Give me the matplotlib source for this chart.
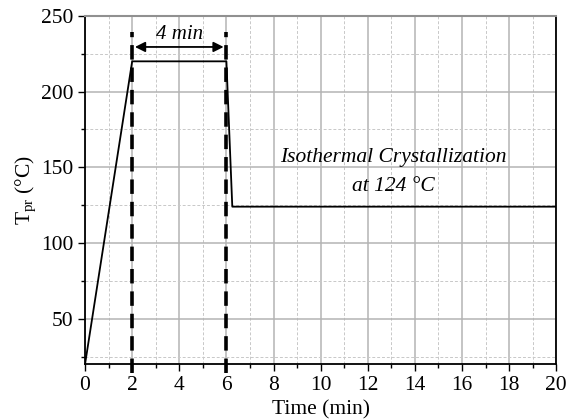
import matplotlib
matplotlib.use("Agg")
import matplotlib.pyplot as plt
from matplotlib.ticker import MultipleLocator

plt.rcParams['font.family'] = ['Liberation Serif', 'DejaVu Serif']
plt.rcParams['mathtext.fontset'] = 'custom'
plt.rcParams['mathtext.rm'] = 'Liberation Serif'
plt.rcParams['mathtext.it'] = 'Liberation Serif:italic'

# Temperature program: heat, hold, quench, isothermal
time_min = [0, 2, 6, 6.25, 20]
temp_c = [20, 220, 220, 124, 124]

hold_start = 2
hold_end = 6
hold_label = "4 min"
iso_label = "Isothermal Crystallization\nat 124 \u00b0C"

fig = plt.figure(figsize=(5.67, 4.19), dpi=100)
ax = fig.add_axes([0.150, 0.131, 0.831, 0.831])

ax.set_xlim(0, 20)
ax.set_ylim(20, 250)
ax.xaxis.set_major_locator(MultipleLocator(2))
ax.xaxis.set_minor_locator(MultipleLocator(1))
ax.yaxis.set_major_locator(MultipleLocator(50))
ax.yaxis.set_minor_locator(MultipleLocator(25))
ax.set_yticks([50, 100, 150, 200, 250])

ax.grid(which='major', color='#b4b4b4', linewidth=1.1, linestyle='-')
ax.grid(which='minor', color='#c8c8c8', linewidth=0.7, linestyle=(0, (3, 2)))
ax.set_axisbelow(True)

ax.tick_params(which='both', direction='out', labelsize=15.5, width=1.0)
ax.tick_params(which='major', length=5)
ax.tick_params(which='minor', length=3)
for side in ['left', 'bottom', 'right']:
    ax.spines[side].set_linewidth(1.3)
    ax.spines[side].set_color('black')
ax.spines['top'].set_color('#909090')
ax.spines['top'].set_linewidth(1.5)

ax.plot(time_min, temp_c, color='black', linewidth=1.3, zorder=3)

# Hold-time markers
for xv in (hold_start, hold_end):
    ax.plot([xv, xv], [14, 239.5], color='black', linewidth=2.6,
            linestyle=(0, (4, 2.2)), clip_on=False, zorder=4)

ax.annotate('', xy=(hold_start, 229.5), xytext=(hold_end, 229.5),
            arrowprops=dict(arrowstyle='<|-|>', color='black', lw=1.3,
                            shrinkA=2, shrinkB=2, mutation_scale=15))
ax.text((hold_start + hold_end) / 2, 238, hold_label, ha='center', va='center',
        fontsize=15, style='italic')

ax.text(13.1, 147, iso_label, ha='center', va='center', fontsize=15.5,
        style='italic', linespacing=1.75)

ax.set_xlabel('Time (min)', fontsize=15.5, labelpad=4)
ax.set_ylabel('T$_{\\mathrm{pr}}$ (\u00b0C)', fontsize=15.5, labelpad=2)

fig.savefig('out.png', dpi=100)
